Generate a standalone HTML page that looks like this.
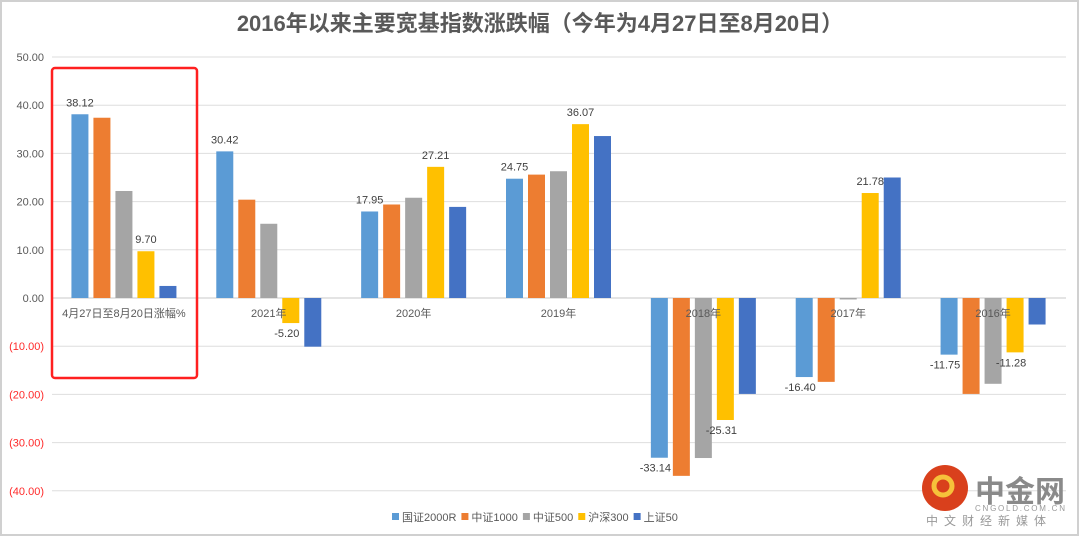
<!DOCTYPE html>
<html><head><meta charset="utf-8"><style>
body{margin:0;background:#fff;}
svg{display:block;font-family:"Liberation Sans","Noto Sans CJK SC",sans-serif;}
</style></head><body>
<svg id="chart" width="1080" height="538" viewBox="0 0 1080 538">
<rect x="1" y="1" width="1077" height="534" fill="#fff" stroke="#d0d0d0" stroke-width="2"/>
<text x="540" y="31" text-anchor="middle" font-size="22" font-weight="bold" fill="#595959">2016年以来主要宽基指数涨跌幅（今年为4月27日至8月20日）</text>
<g id="grid"></g><g id="bars"></g><g id="labels"></g>
<rect x="52" y="68" width="145" height="310" rx="3" fill="none" stroke="#ff2020" stroke-width="2.5"/>
<g id="legend"></g>
<g>
<circle cx="945" cy="488" r="23" fill="#d9401c"/>
<circle cx="943" cy="486" r="9" fill="none" stroke="#f6c23a" stroke-width="5"/>
<text x="975" y="502" font-size="30" font-weight="bold" fill="#8a8a8a" textLength="90">中金网</text>
<text x="975" y="511" font-size="8" fill="#999" textLength="90">CNGOLD.COM.CN</text>
<text x="926" y="525" font-size="12" fill="#999" letter-spacing="6">中文财经新媒体</text>
</g>
</svg>
<script>
const categories=["4月27日至8月20日涨幅%","2021年","2020年","2019年","2018年","2017年","2016年"];
const seriesNames=["国证2000R","中证1000","中证500","沪深300","上证50"];
const s0=[38.12,30.42,17.95,24.75,-33.14,-16.40,-11.75];
const s1=[37.4,20.4,19.4,25.6,-36.9,-17.4,-19.9];
const s2=[22.2,15.4,20.8,26.3,-33.2,-0.3,-17.8];
const s3=[9.70,-5.20,27.21,36.07,-25.31,21.78,-11.28];
const s4=[2.5,-10.1,18.9,33.6,-19.9,25.0,-5.5];
const labelFlags=[[1,1,1,1,1,1,1],[0,0,0,0,0,0,0],[0,0,0,0,0,0,0],[1,1,1,1,1,1,1],[0,0,0,0,0,0,0]];
const ticks=[50,40,30,20,10,0,-10,-20,-30,-40];
const colors=["#5b9bd5","#ed7d31","#a5a5a5","#ffc000","#4472c4"];
const series=[s0,s1,s2,s3,s4];
const NS="http://www.w3.org/2000/svg";
const x0=52,x1=1066,yTop=57,yZero=298;
const y=v=>yZero-(v)*(yZero-yTop)/50;
const cw=(x1-x0)/categories.length;
const cx=i=>x0+cw*(i+0.5)-0.5;
function mk(t,a,p){const e=document.createElementNS(NS,t);for(const k in a)e.setAttribute(k,a[k]);p.appendChild(e);return e;}
const G=document.getElementById('grid'),B=document.getElementById('bars'),L=document.getElementById('labels'),LG=document.getElementById('legend');
ticks.forEach(t=>{
 const ln=mk('line',{x1:x0,x2:x1,y1:y(t),y2:y(t),stroke:t===0?'#c8c8c8':'#dedede','stroke-width':1},G);
 
 
 const tx=mk('text',{x:44,y:y(t)+4,'text-anchor':'end','font-size':11,fill:t<0?'#ff2a2a':'#595959'},G);
 tx.textContent=t<0?'('+Math.abs(t).toFixed(2)+')':t.toFixed(2);
 
 
});
const bw=17,step=22;
categories.forEach((c,i)=>{
 series.forEach((s,k)=>{
  const v=s[i];const bx=cx(i)+(k-2)*step-bw/2;
  const r=mk('rect',{x:bx,y:Math.min(y(v),yZero),width:bw,height:Math.max(Math.abs(y(v)-yZero),1),fill:colors[k]},B);
  
  
  if(labelFlags[k][i]){
   const t=mk('text',{x:v>=0?bx+bw/2:bx+bw/2-4,y:v>=0?y(v)-8:y(v)+14,'text-anchor':'middle','font-size':11,fill:'#404040'},L);
   t.textContent=v.toFixed(2);
   
   
  }
 });
 const ct=mk('text',{x:cx(i),y:317,'text-anchor':'middle','font-size':11,fill:'#595959'},L);
 ct.textContent=c;
 
 
});
let lx=392;
seriesNames.forEach((n,k)=>{
 const sq=mk('rect',{x:lx,y:513,width:7,height:7,fill:colors[k]},LG);
 
 
 const t=mk('text',{x:lx+10,y:521,'font-size':11,fill:'#595959'},LG);
 t.textContent=n;
 
 
 lx+=10+t.getComputedTextLength()+5;
});
</script>
</body></html>
